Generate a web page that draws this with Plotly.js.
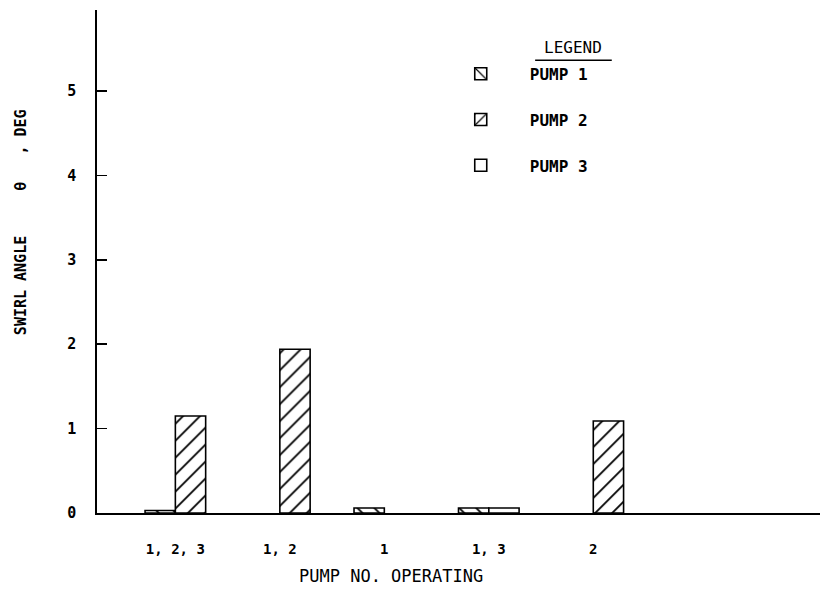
<!DOCTYPE html>
<html>
<head>
<meta charset="utf-8">
<script src="https://cdn.plot.ly/plotly-3.0.1.min.js"></script>
<style>html,body{margin:0;padding:0;background:#fff;}#chart{width:821px;height:589px;}</style>
</head>
<body>
<div id="chart"></div>
<script>
// Data (null = no bar drawn)
var categories = ["1, 2, 3", "1, 2", "1", "1, 3", "2"];
var pump1 = [0.03, null, 0.06, 0.06, null];
var pump2 = [1.15, 1.94, null, null, 1.09];
var pump3 = [null, null, null, 0.06, null];
var seriesNames = ["PUMP 1", "PUMP 2", "PUMP 3"];
var yTicks = [0, 1, 2, 3, 4, 5];
var yTitle = "SWIRL ANGLE     θ   , DEG";
var xTitle = "PUMP NO. OPERATING";
var legendHeading = "LEGEND";

var FONT = "DejaVu Sans Mono, monospace";

function barTrace(name, vals, shape, offset, group) {
  return {
    type: "bar",
    name: name,
    x: categories,
    y: vals,
    width: 0.29,
    offset: offset,
    legendgroup: group,
    marker: {
      color: "#ffffff",
      line: {color: "#000000", width: 1.6},
      pattern: {shape: shape, fgcolor: "#000000", bgcolor: "#ffffff", size: 12, solidity: 0.15}
    },
    hoverinfo: "x+y+name"
  };
}

var data = [
  barTrace(seriesNames[0], pump1, "\\", -0.29, "g1"),
  barTrace(seriesNames[1], pump2, "/", 0, "g2"),
  barTrace(seriesNames[2], pump3, "", 0, "g3")
];

var layout = {
  width: 821,
  height: 589,
  margin: {l: 97, r: 1, t: 10, b: 76},
  paper_bgcolor: "#ffffff",
  plot_bgcolor: "#ffffff",
  barmode: "overlay",
  font: {family: FONT, size: 14, color: "#000000"},
  showlegend: true,
  legend: {
    x: 0.463, y: 0.907, xanchor: "left", yanchor: "top",
    traceorder: "grouped",
    tracegroupgap: 22,
    itemwidth: 88,
    font: {family: FONT, size: 16, color: "#000000", weight: "bold"},
    bgcolor: "rgba(0,0,0,0)"
  },
  xaxis: {
    type: "category",
    range: [-0.75, 6.17],
    showline: true, linecolor: "#000000", linewidth: 1.8,
    showgrid: false, zeroline: false,
    ticks: "",
    ticklabelstandoff: 22,
    tickfont: {family: FONT, size: 14, color: "#000000", weight: "bold"},
    fixedrange: true
  },
  yaxis: {
    range: [0, 5.96],
    tickvals: yTicks,
    ticktext: yTicks.map(String),
    showline: true, linecolor: "#000000", linewidth: 1.8,
    showgrid: false, zeroline: false,
    ticks: "inside", ticklen: 10, tickwidth: 1.6, tickcolor: "#000000",
    ticklabelstandoff: 16,
    tickfont: {family: FONT, size: 15, color: "#000000", weight: "bold"},
    fixedrange: true
  },
  shapes: [
    {type: "line", xref: "paper", yref: "paper", x0: 0.606, x1: 0.712, y0: 0.9, y1: 0.9,
     line: {color: "#000000", width: 1.6}}
  ],
  annotations: [
    {
      xref: "paper", yref: "paper",
      x: 0.407, y: -0.125, xanchor: "center", yanchor: "middle",
      text: xTitle, showarrow: false,
      font: {family: FONT, size: 17, color: "#000000"}
    },
    {
      xref: "paper", yref: "paper",
      x: 0.659, y: 0.925, xanchor: "center", yanchor: "middle",
      text: legendHeading, showarrow: false,
      font: {family: FONT, size: 16, color: "#000000"}
    },
    {
      xref: "paper", yref: "paper",
      x: -0.106, y: 0.579, xanchor: "center", yanchor: "middle",
      text: yTitle, showarrow: false, textangle: -90,
      font: {family: FONT, size: 15, color: "#000000", weight: "bold"}
    }
  ]
};

Plotly.newPlot("chart", data, layout, {displayModeBar: false, staticPlot: true});
</script>
</body>
</html>
